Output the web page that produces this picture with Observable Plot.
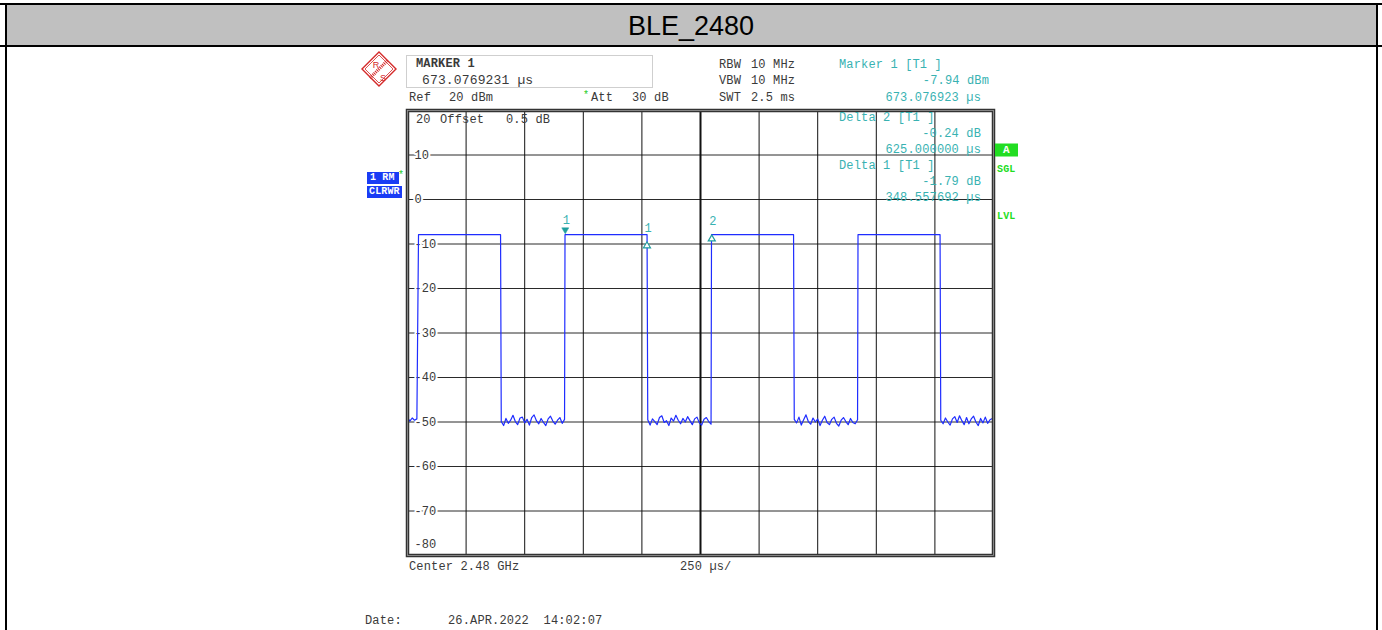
<!DOCTYPE html>
<html>
<head>
<meta charset="utf-8">
<script src="https://cdn.jsdelivr.net/npm/d3@7"></script>
<script src="https://cdn.jsdelivr.net/npm/@observablehq/plot@0.6"></script>
<style>
  html, body { margin: 0; padding: 0; background: #fff; }
  #page { position: relative; width: 1382px; height: 630px; overflow: hidden; background: #fff; }
  #chart { position: absolute; left: 0; top: 0; }
  .lab { position: absolute; white-space: pre; line-height: 1; font-family: 'Liberation Mono', 'Courier New', monospace; font-size: 12px; letter-spacing: 0.15px; color: #3a3a3a; }
</style>
</head>
<body>
<div id="page">
  <div style="position:absolute;left:0;top:3px;width:1382px;height:2px;background:#000"></div>
  <div style="position:absolute;left:7px;top:5px;width:1369px;height:40px;background:#c0c0c0"></div>
  <div style="position:absolute;left:0;top:45px;width:1382px;height:2px;background:#000"></div>
  <div style="position:absolute;left:5px;top:3px;width:2px;height:627px;background:#000"></div>
  <div style="position:absolute;left:1376px;top:3px;width:2px;height:627px;background:#000"></div>
  <div id="title" style="position:absolute;left:0;top:5px;width:1382px;height:40px;line-height:42px;text-align:center;font-family:'Liberation Sans',Arial,sans-serif;font-size:27px;color:#000">BLE_2480</div>
  <div id="chart"></div>
  <svg style="position:absolute;left:360px;top:50px" width="40" height="40" viewBox="360 50 40 40">
    <polygon points="379,52 396,69 379,86 362,69" fill="#fff" stroke="#d42828" stroke-width="1.4"/>
    <polygon points="379,55 393,69 379,83 365,69" fill="none" stroke="#d42828" stroke-width="0.8"/>
    <line x1="370" y1="78" x2="388" y2="60" stroke="#d42828" stroke-width="3.2" stroke-dasharray="1 1"/>
    <text x="376" y="68" font-family="Liberation Sans, Arial" font-size="9" fill="#d42828" text-anchor="middle">R</text>
    <text x="383" y="81" font-family="Liberation Sans, Arial" font-size="9" fill="#d42828" text-anchor="middle">S</text>
  </svg>
  <div style="position:absolute;left:406px;top:55px;width:247px;height:33px;border:1px solid #cfcfcf;box-sizing:border-box"></div>
</div>
<script>
// ---- data ----
const timeGrid = [250, 500, 750, 1000, 1250, 1500, 1750, 2000, 2250];   // µs
const dbGrid = [10, 0, -10, -20, -30, -40, -50, -60, -70];               // dBm
const dbLabels = [10, 0, -10, -20, -30, -40, -50, -60, -70];
const burstStart = [47, 672, 1297, 1922];
const burstEnd = [397, 1022, 1647, 2272];
const burstLevel = [-7.9, -7.9, -7.9, -7.9];
const noiseStart = [0, 400, 1025, 1650, 2275];
const noiseStep = 10;
const noise0 = [-49.0, -49.8, -49.1, -49.6, -49.3];
const noise1 = [-49.9, -50.8, -49.2, -50.3, -49.6, -48.5, -49.9, -50.6, -49.1, -48.9, -50.2, -49.4, -50.7, -49.0, -48.4, -49.7, -50.4, -49.2, -50.1, -50.8, -49.3, -48.7, -49.8, -50.5, -49.6, -49.0, -50.3, -49.4];
const noise2 = [-49.5, -50.7, -49.3, -49.9, -50.6, -49.0, -48.6, -50.1, -49.7, -50.8, -49.1, -49.8, -48.5, -49.6, -50.4, -49.2, -50.0, -48.8, -49.7, -50.6, -49.3, -48.9, -50.2, -50.7, -49.4, -49.0, -49.9, -50.5];
const noise3 = [-49.4, -50.2, -48.9, -50.7, -49.5, -48.4, -49.9, -50.5, -49.1, -50.0, -49.3, -50.8, -49.6, -48.7, -50.1, -50.6, -49.4, -48.9, -50.3, -50.9, -49.6, -49.0, -49.9, -50.6, -49.2, -50.1, -50.4, -49.5];
const noise4 = [-49.6, -50.4, -49.1, -50.0, -50.7, -49.3, -48.8, -50.1, -48.6, -49.7, -50.6, -49.0, -50.4, -49.3, -48.7, -50.0, -50.8, -49.2, -50.2, -48.9, -50.3, -49.5, -49.2];
const noiseSeg = [noise0, noise1, noise2, noise3, noise4];
const markerT = [673.08, 1021.63, 1298.08];
const markerV = [-7.94, -9.73, -8.18];
const markerLabel = ["1", "1", "2"];
const markerKind = ["marker", "delta", "delta"];

// ---- build trace ----
const trace = [];
noiseSeg.forEach((seg, i) => {
  seg.forEach((v, k) => trace.push({t: noiseStart[i] + k * noiseStep, v}));
  if (i < burstStart.length) {
    trace.push({t: burstStart[i], v: burstLevel[i]});
    trace.push({t: burstEnd[i], v: burstLevel[i]});
  }
});
const markers = markerT.map((t, i) => ({t, v: markerV[i], label: markerLabel[i], kind: markerKind[i]}));

const mono = "'Liberation Mono','Courier New',monospace";
const teal = "#38b2b2";
const tealDark = "#1f9e9e";

// triangle symbols (down = main marker, up = delta marker)
const triDown = {draw(ctx, size) { const r = Math.sqrt(size) * 0.6; ctx.moveTo(-r, -r * 0.85); ctx.lineTo(r, -r * 0.85); ctx.lineTo(0, r * 0.85); ctx.closePath(); }};
const triUp = {draw(ctx, size) { const r = Math.sqrt(size) * 0.6; ctx.moveTo(-r, r * 0.85); ctx.lineTo(r, r * 0.85); ctx.lineTo(0, -r * 0.85); ctx.closePath(); }};

const plot = Plot.plot({
  width: 1382,
  height: 630,
  marginLeft: 407,
  marginRight: 389,
  marginTop: 110,
  marginBottom: 75,
  style: {background: "transparent", overflow: "visible"},
  x: {domain: [0, 2500], axis: null},
  y: {domain: [-80, 20], axis: null},
  marks: [
    Plot.ruleY(dbGrid, {stroke: "#2a2a2a", strokeWidth: 1}),
    Plot.ruleX(timeGrid, {stroke: "#111", strokeWidth: d => d === 1250 ? 2 : 1}),
    Plot.text(dbLabels, {frameAnchor: "left", y: d => d, text: d => String(d), textAnchor: "start", dx: 7,
      fill: "#3a3a3a", stroke: "white", strokeWidth: 4, fontFamily: mono, fontSize: 12}),
    Plot.text(["-80"], {frameAnchor: "bottom-left", text: d => d, textAnchor: "start", dx: 7, dy: -8,
      fill: "#3a3a3a", fontFamily: mono, fontSize: 12}),
    Plot.line(trace, {x: "t", y: "v", stroke: "#1f2dff", strokeWidth: 1.2}),
    Plot.dot(markers.filter(d => d.kind === "marker"), {x: "t", y: "v", symbol: triDown, r: 3.3, fill: tealDark, stroke: tealDark, strokeWidth: 0.5, dy: -4}),
    Plot.dot(markers.filter(d => d.kind === "delta"), {x: "t", y: "v", symbol: triUp, r: 3.3, fill: "white", stroke: tealDark, strokeWidth: 1.2, dy: 2}),
    Plot.text(markers, {x: "t", y: "v", text: "label", fill: teal, fontFamily: mono, fontSize: 12, dy: -15, dx: 1}),
    Plot.frame({stroke: "#333", strokeWidth: 3.5}),
    Plot.frame({stroke: "#9a9a9a", strokeWidth: 0.8})
  ]
});
document.getElementById("chart").appendChild(plot);

// ---- annotation texts ----
const page = document.getElementById("page");
function lab(text, x, y, o = {}) {
  const d = document.createElement("div");
  d.className = "lab";
  d.textContent = text;
  d.style.left = x + "px";
  d.style.top = y + "px";
  d.style.transform = `translate(${o.end ? "-100%" : "0"}, -50%)`;
  if (o.color) d.style.color = o.color;
  if (o.bold) d.style.fontWeight = "bold";
  if (o.size) d.style.fontSize = o.size + "px";
  if (o.bg) { d.style.background = o.bg; d.style.padding = o.pad || "1px 2px"; }
  page.appendChild(d);
  return d;
}
lab("MARKER 1", 416, 64, {bold: true});
lab("673.0769231 µs", 422, 80, {size: 13});
lab("Ref", 409, 98); lab("20 dBm", 449, 98);
lab("*", 583, 96, {color: "#22cc22", size: 10});
lab("Att", 591, 98); lab("30 dB", 632, 98);
lab("RBW", 719, 65); lab("10 MHz", 751, 65);
lab("VBW", 719, 81); lab("10 MHz", 751, 81);
lab("SWT", 719, 98); lab("2.5 ms", 751, 98);
lab("Marker 1 [T1 ]", 839, 65, {color: teal});
lab("-7.94 dBm", 989, 81, {color: teal, end: true});
lab("673.076923 µs", 981, 98, {color: teal, end: true});
lab("Delta 2 [T1 ]", 839, 118, {color: teal});
lab("-0.24 dB", 981, 134, {color: teal, end: true});
lab("625.000000 µs", 981, 150, {color: teal, end: true});
lab("Delta 1 [T1 ]", 839, 166, {color: teal});
lab("-1.79 dB", 981, 182, {color: teal, end: true});
lab("348.557692 µs", 981, 198, {color: teal, end: true});
lab("20", 416, 120); lab("Offset", 440, 120); lab("0.5 dB", 506, 120);
lab("Center 2.48 GHz", 409, 567);
lab("250 µs/", 680, 567);
lab("Date:", 365, 621);
lab("26.APR.2022  14:02:07", 448, 621);
// side indicators
lab("1 RM", 367, 178, {bold: true, color: "#fff", size: 10, bg: "#1a3cf5", pad: "1px 4px 1px 3px"});
lab("*", 398, 176, {color: "#22cc22", size: 10});
lab("CLRWR", 367, 192, {bold: true, color: "#fff", size: 10, bg: "#1a3cf5", pad: "1px 2px"});
lab("A", 995, 150, {bold: true, color: "#fff", size: 11, bg: "#22dd22", pad: "1px 8px"});
lab("SGL", 997, 170, {bold: true, color: "#22dd22", size: 10});
lab("LVL", 997, 217, {bold: true, color: "#22dd22", size: 10});
</script>
</body>
</html>
